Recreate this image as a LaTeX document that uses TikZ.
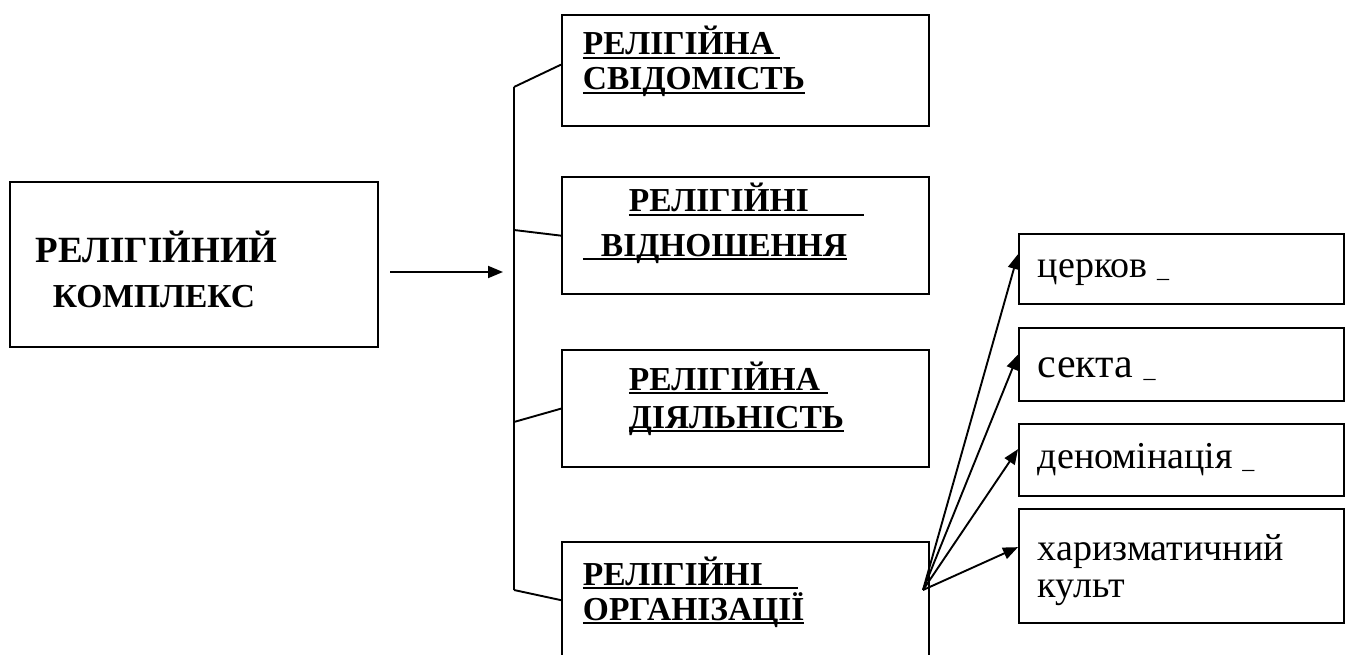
\documentclass[tikz,border=0pt]{standalone}
\usepackage{fontspec}
\setmainfont{Liberation Serif}
\usetikzlibrary{arrows.meta}

% underlined text, with extra underlined room after it
\newcommand{\ulbox}[2][0pt]{\setbox0\hbox{#2}\rlap{\rule[-4pt]{\dimexpr\wd0+#1\relax}{2pt}}\box0}

\begin{document}
\begin{tikzpicture}[x=1pt,y=-1pt,line width=1.9pt,
  box/.style={draw,line width=2.3pt,rectangle,anchor=north west,inner sep=0pt},
  hdr/.style={anchor=base west,inner sep=0pt,font=\fontsize{33.5}{35}\selectfont\bfseries},
  item/.style={anchor=base west,inner sep=0pt,font=\fontsize{38}{38}\selectfont},
  arr/.style={-{Triangle[length=15pt,width=12pt]}}]
  \useasboundingbox (0,0) rectangle (1352,655);
  % main box
  \node[box,minimum width=368pt,minimum height=165pt] (kompleks) at (9,181) {};
  \node[hdr,font=\fontsize{37}{37}\selectfont\bfseries] (kompl1) at (35,262) {РЕЛІГІЙНИЙ};
  \node[hdr] (kompl2) at (52,307) {КОМПЛЕКС};
  % middle column
  \node[box,minimum width=367pt,minimum height=111pt] (svid) at (561,14) {};
  \node[box,minimum width=367pt,minimum height=117pt] (vidn) at (561,176) {};
  \node[box,minimum width=367pt,minimum height=117pt] (diyal) at (561,349) {};
  \node[box,minimum width=367pt,minimum height=116pt] (orhan) at (561,541) {};
  \node[hdr] (svid1) at (582,55) {\ulbox[6pt]{РЕЛІГІЙНА}};
  \node[hdr] (svid2) at (582,90) {\ulbox{СВІДОМІСТЬ}};
  \node[hdr] (vidn1) at (628,212) {\ulbox[55pt]{РЕЛІГІЙНІ}};
  \node[hdr] (vidn2) at (582,256) {\ulbox{\hspace{18pt}ВІДНОШЕННЯ}};
  \node[hdr] (diyal1) at (628,390) {\ulbox[8pt]{РЕЛІГІЙНА}};
  \node[hdr] (diyal2) at (628,428) {\ulbox{ДІЯЛЬНІСТЬ}};
  \node[hdr] (orhan1) at (582,585) {\ulbox[35pt]{РЕЛІГІЙНІ}};
  \node[hdr] (orhan2) at (582,620) {\ulbox{ОРГАНІЗАЦІЇ}};
  % right column
  \node[box,minimum width=325pt,minimum height=70pt] (tserkva) at (1018,233) {};
  \node[box,minimum width=325pt,minimum height=73pt] (sekta) at (1018,327) {};
  \node[box,minimum width=325pt,minimum height=72pt] (denom) at (1018,423) {};
  \node[box,minimum width=325pt,minimum height=114pt] (kharyzm) at (1018,508) {};
  \node[item] (tserkvaT) at (1037,277) {церков {\fontsize{24}{24}\selectfont\_}};
  \node[item,font=\fontsize{42}{42}\selectfont] (sektaT) at (1037,377) {секта {\fontsize{24}{24}\selectfont\_}};
  \node[item] (denomT) at (1037,468) {деномінація {\fontsize{24}{24}\selectfont\_}};
  \node[item] (kharyzmT1) at (1037,560) {харизматичний};
  \node[item] (kharyzmT2) at (1037,597) {культ};
  % connectors
  \coordinate (arrStart) at (390,272);
  \coordinate (arrEnd) at (503,272);
  \coordinate (br1) at (514,87);
  \coordinate (br2) at (514,230);
  \coordinate (br3) at (514,422);
  \coordinate (br4) at (514,590);
  \coordinate (hub) at (923,590);
  \draw[arr] (arrStart) -- (arrEnd);
  \draw (br1) -- (br4);
  \draw (br1) -- ([yshift=6pt]svid.west);
  \draw (br2) -- (vidn.west);
  \draw (br3) -- (diyal.west);
  \draw (br4) -- (orhan.west);
  \foreach \n/\s in {tserkva/15,sekta/10,denom/11,kharyzm/19}
    \draw[arr] (hub) -- ([yshift=\s pt]\n.west);
\end{tikzpicture}
\end{document}
